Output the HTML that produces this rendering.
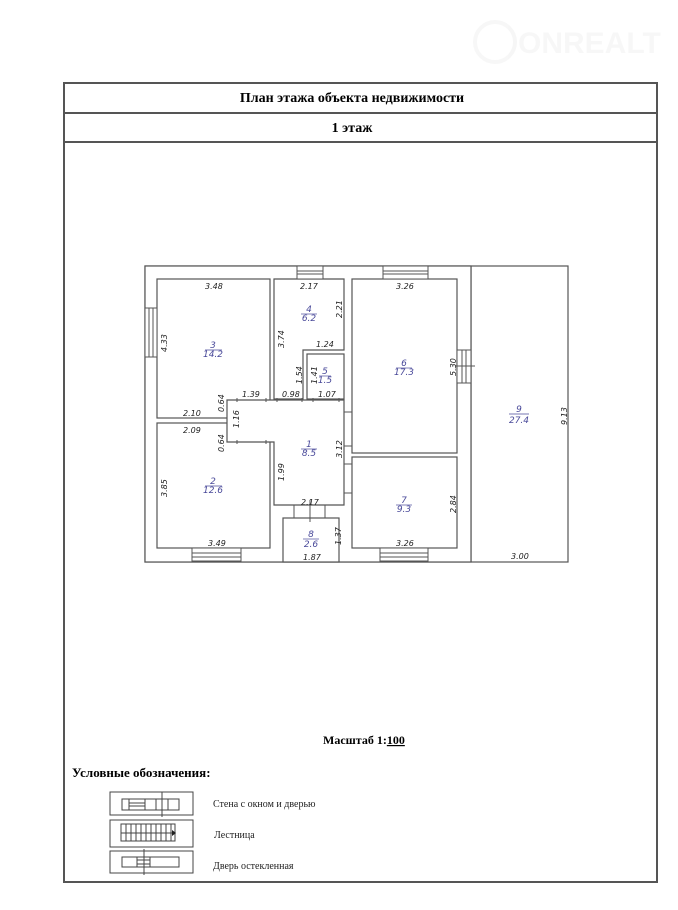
<!DOCTYPE html>
<html><head><meta charset="utf-8"><style>
body{margin:0;background:#fff;}
svg{display:block;}
.d{font-family:"DejaVu Sans","Liberation Sans",sans-serif;font-style:italic;font-size:8px;fill:#222;}
.b{font-family:"DejaVu Sans","Liberation Sans",sans-serif;font-style:italic;font-size:9px;fill:#4a4a9a;}
.s{font-family:"Liberation Serif",serif;}
</style></head><body>
<svg width="678" height="910" viewBox="0 0 678 910" xmlns="http://www.w3.org/2000/svg">
<g opacity="0.07">
<circle cx="495" cy="42" r="20" fill="none" stroke="#888" stroke-width="4"/>
<text x="518" y="53" font-family="Liberation Sans" font-weight="bold" font-size="30" fill="#999">ONREALT</text>
</g>
<g stroke="#555" stroke-width="2" fill="none">
<rect x="64" y="83" width="593" height="799"/>
<line x1="64" y1="113" x2="657" y2="113"/>
<line x1="64" y1="142" x2="657" y2="142"/>
</g>
<text x="352" y="102" class="s" font-size="14" font-weight="bold" text-anchor="middle">План этажа объекта недвижимости</text>
<text x="352" y="132" class="s" font-size="14" font-weight="bold" text-anchor="middle">1 этаж</text>

<g stroke="#555" stroke-width="1.2" fill="#fff">
<rect x="145" y="266" width="423" height="296"/>
<line x1="471" y1="266" x2="471" y2="562"/>
<rect x="145" y="266" width="326" height="296"/>
<rect x="157" y="279" width="113" height="139"/>
<rect x="157" y="423" width="113" height="125"/>
<polygon points="274,279 344,279 344,350 303,350 303,399 274,399"/>
<rect x="307" y="354" width="37" height="45"/>
<polygon points="227,400 344,400 344,505 274,505 274,442 227,442"/>
<rect x="352" y="279" width="105" height="174"/>
<rect x="352" y="457" width="105" height="91"/>
<rect x="283" y="518" width="56" height="44"/>
</g>
<g stroke="#555" stroke-width="1" fill="#fff">
<rect x="297" y="266" width="26" height="13"/><line x1="297" y1="271" x2="323" y2="271"/><line x1="297" y1="274" x2="323" y2="274"/>
<rect x="383" y="266" width="45" height="13"/><line x1="383" y1="271" x2="428" y2="271"/><line x1="383" y1="274" x2="428" y2="274"/>
<rect x="145" y="308" width="12" height="49"/><line x1="149" y1="308" x2="149" y2="357"/><line x1="153" y1="308" x2="153" y2="357"/>
<rect x="192" y="548" width="49" height="13"/><line x1="192" y1="553" x2="241" y2="553"/><line x1="192" y1="557" x2="241" y2="557"/>
<rect x="380" y="548" width="48" height="13"/><line x1="380" y1="553" x2="428" y2="553"/><line x1="380" y1="557" x2="428" y2="557"/>
<rect x="457" y="350" width="14" height="33"/><line x1="462" y1="350" x2="462" y2="383"/><line x1="466" y1="350" x2="466" y2="383"/><line x1="455" y1="366" x2="475" y2="366"/>
<line x1="294" y1="505" x2="294" y2="518"/><line x1="325" y1="505" x2="325" y2="518"/>
<line x1="310" y1="500" x2="310" y2="522"/>
<line x1="344" y1="412" x2="352" y2="412"/><line x1="344" y1="446" x2="352" y2="446"/>
<line x1="344" y1="464" x2="352" y2="464"/><line x1="344" y1="493" x2="352" y2="493"/>
<line x1="237" y1="398" x2="237" y2="402"/><line x1="266" y1="398" x2="266" y2="402"/><line x1="277" y1="398" x2="277" y2="402"/><line x1="302" y1="398" x2="302" y2="402"/><line x1="313" y1="398" x2="313" y2="402"/><line x1="339" y1="398" x2="339" y2="402"/>
<line x1="237" y1="440" x2="237" y2="444"/><line x1="266" y1="440" x2="266" y2="444"/>
</g>
<g class="d">
<text x="205" y="289">3.48</text><text x="300" y="289">2.17</text><text x="396" y="289">3.26</text>
<text x="316" y="347">1.24</text><text x="242" y="397">1.39</text><text x="282" y="397">0.98</text><text x="318" y="397">1.07</text>
<text x="183" y="416">2.10</text><text x="183" y="433">2.09</text>
<text x="301" y="505">2.17</text><text x="208" y="546">3.49</text><text x="396" y="546">3.26</text><text x="303" y="560">1.87</text>
<text x="511" y="559">3.00</text>
<text transform="translate(167,352) rotate(-90)">4.33</text>
<text transform="translate(284,348) rotate(-90)">3.74</text>
<text transform="translate(342,318) rotate(-90)">2.21</text>
<text transform="translate(302,384) rotate(-90)">1.54</text>
<text transform="translate(317,384) rotate(-90)">1.41</text>
<text transform="translate(224,412) rotate(-90)">0.64</text>
<text transform="translate(224,452) rotate(-90)">0.64</text>
<text transform="translate(239,428) rotate(-90)">1.16</text>
<text transform="translate(284,481) rotate(-90)">1.99</text>
<text transform="translate(342,458) rotate(-90)">3.12</text>
<text transform="translate(456,376) rotate(-90)">5.30</text>
<text transform="translate(456,513) rotate(-90)">2.84</text>
<text transform="translate(341,545) rotate(-90)">1.37</text>
<text transform="translate(567,425) rotate(-90)">9.13</text>
<text transform="translate(167,497) rotate(-90)">3.85</text>
</g>
<g class="b" text-anchor="middle">
<text x="213" y="348">3</text><line x1="205" y1="350" x2="222" y2="350" stroke="#4a4a9a" stroke-width=".7"/><text x="213" y="357">14.2</text>
<text x="309" y="312">4</text><line x1="301" y1="314" x2="317" y2="314" stroke="#4a4a9a" stroke-width=".7"/><text x="309" y="321">6.2</text>
<text x="325" y="374">5</text><line x1="319" y1="376" x2="331" y2="376" stroke="#4a4a9a" stroke-width=".7"/><text x="325" y="383">1.5</text>
<text x="404" y="366">6</text><line x1="396" y1="368" x2="412" y2="368" stroke="#4a4a9a" stroke-width=".7"/><text x="404" y="375">17.3</text>
<text x="309" y="447">1</text><line x1="301" y1="449" x2="317" y2="449" stroke="#4a4a9a" stroke-width=".7"/><text x="309" y="456">8.5</text>
<text x="213" y="484">2</text><line x1="205" y1="486" x2="222" y2="486" stroke="#4a4a9a" stroke-width=".7"/><text x="213" y="493">12.6</text>
<text x="404" y="503">7</text><line x1="396" y1="505" x2="412" y2="505" stroke="#4a4a9a" stroke-width=".7"/><text x="404" y="512">9.3</text>
<text x="311" y="537">8</text><line x1="303" y1="539" x2="319" y2="539" stroke="#4a4a9a" stroke-width=".7"/><text x="311" y="547">2.6</text>
<text x="519" y="412">9</text><line x1="509" y1="414" x2="529" y2="414" stroke="#4a4a9a" stroke-width=".7"/><text x="519" y="423">27.4</text>
</g>

<text x="323" y="744" class="s" font-size="12" font-weight="bold">Масштаб 1:<tspan text-decoration="underline">100</tspan></text>
<text x="72" y="777" class="s" font-size="13" font-weight="bold">Условные обозначения:</text>
<g stroke="#444" stroke-width="1" fill="none">
<rect x="110" y="792" width="83" height="23"/>
<rect x="122" y="799" width="57" height="11"/>
<line x1="129" y1="799" x2="129" y2="810"/><line x1="145" y1="799" x2="145" y2="810"/>
<line x1="129" y1="803" x2="145" y2="803"/><line x1="129" y1="806" x2="145" y2="806"/>
<line x1="156" y1="799" x2="156" y2="810"/><line x1="168" y1="799" x2="168" y2="810"/>
<line x1="162" y1="792" x2="162" y2="817"/>
<rect x="110" y="820" width="83" height="27"/>
<rect x="121" y="824" width="54" height="17"/><line x1="121" y1="833" x2="175" y2="833"/>
<path d="M126 824v17M131 824v17M136 824v17M141 824v17M146 824v17M151 824v17M156 824v17M161 824v17M166 824v17M171 824v17"/>
<rect x="110" y="851" width="83" height="22"/>
<rect x="122" y="857" width="57" height="10"/>
<rect x="137" y="857" width="13" height="10"/><line x1="137" y1="860" x2="150" y2="860"/><line x1="137" y1="864" x2="150" y2="864"/>
<line x1="144" y1="849" x2="144" y2="875"/>
</g>
<polygon points="172,830 176,833 172,836" fill="#222"/>
<g class="s" font-size="10" fill="#222">
<text x="213" y="807">Стена с окном и дверью</text>
<text x="214" y="838">Лестница</text>
<text x="213" y="869">Дверь остекленная</text>
</g>
</svg>
</body></html>
